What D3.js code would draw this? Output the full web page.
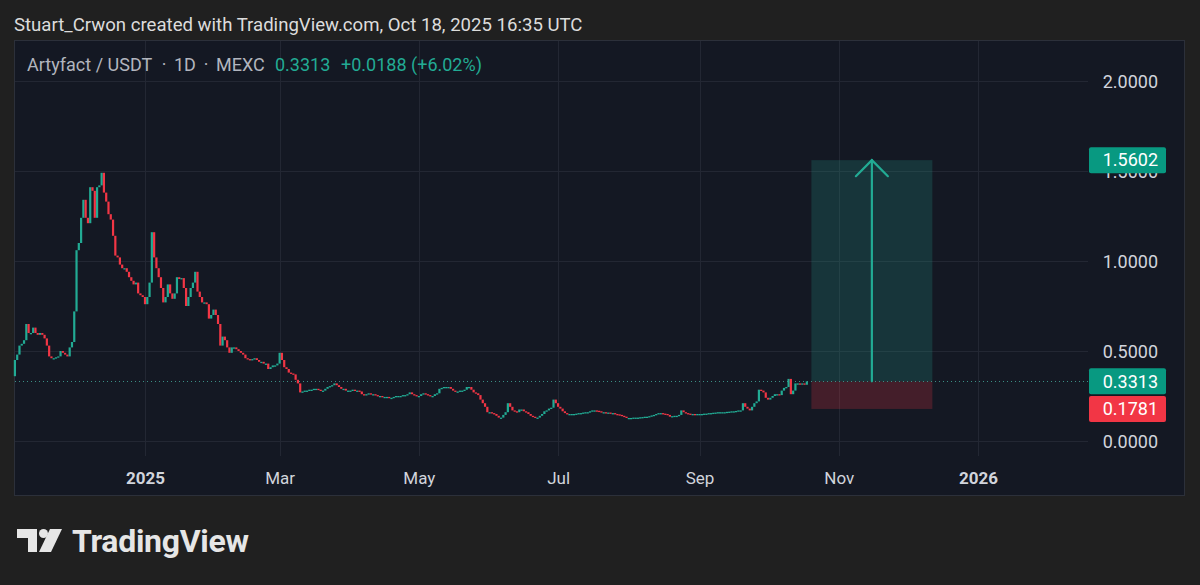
<!DOCTYPE html>
<html><head><meta charset="utf-8">
<script src="https://cdn.jsdelivr.net/npm/d3@7"></script>
<style>
html,body{margin:0;padding:0;background:#202020;}
svg{display:block;}
text{font-family:Roboto,"Noto Sans",sans-serif;}
</style></head><body>
<svg id="chart" width="1200" height="585"></svg>
<script>
// ---- Data: daily closes of Artyfact / USDT (MEXC), open = previous close ----
const seriesStart = "2024-11-05";
const firstOpen = 0.36;
const closesNov2024 = [0.45,0.48,0.53,0.54,0.56,0.65,0.60,0.60,0.63,0.60,0.59,0.60,0.59,0.57,0.53,0.47,0.46,0.46,0.465,0.47,0.50,0.49,0.48,0.47,0.52,0.55];
const closesDec2024 = [0.72,1.06,1.10,1.24,1.34,1.24,1.21,1.41,1.39,1.24,1.41,1.42,1.49,1.38,1.33,1.26,1.23,1.14,1.03,1.02,0.98,0.96,0.96,0.94,0.91,0.89,0.87,0.88,0.82,0.81,0.80];
const closesJan2025 = [0.76,0.80,0.88,1.16,1.02,0.96,0.91,0.85,0.77,0.80,0.87,0.82,0.79,0.82,0.91,0.90,0.905,0.85,0.75,0.80,0.85,0.88,0.94,0.83,0.80,0.77,0.77,0.76,0.68,0.70,0.73];
const closesFeb2025 = [0.70,0.65,0.53,0.58,0.56,0.52,0.49,0.52,0.52,0.51,0.50,0.49,0.48,0.46,0.455,0.45,0.455,0.46,0.45,0.44,0.44,0.43,0.43,0.40,0.41,0.42,0.42,0.43];
const closesMar2025 = [0.49,0.45,0.41,0.40,0.38,0.375,0.37,0.34,0.32,0.27,0.275,0.28,0.28,0.285,0.285,0.29,0.29,0.285,0.28,0.28,0.29,0.30,0.305,0.31,0.32,0.31,0.30,0.29,0.29,0.28,0.28];
const closesApr2025 = [0.28,0.285,0.28,0.28,0.275,0.26,0.255,0.26,0.265,0.26,0.26,0.255,0.25,0.25,0.245,0.245,0.245,0.24,0.24,0.245,0.25,0.25,0.25,0.255,0.255,0.26,0.27,0.26,0.255,0.25];
const closesMay2025 = [0.25,0.26,0.265,0.26,0.255,0.25,0.25,0.26,0.265,0.29,0.295,0.30,0.30,0.30,0.29,0.28,0.275,0.275,0.28,0.28,0.285,0.30,0.30,0.285,0.27,0.265,0.255,0.23,0.21,0.19,0.16];
const closesJun2025 = [0.16,0.155,0.15,0.14,0.13,0.13,0.145,0.16,0.21,0.19,0.17,0.165,0.16,0.175,0.175,0.165,0.16,0.15,0.14,0.135,0.13,0.13,0.14,0.15,0.165,0.17,0.18,0.185,0.23,0.21];
const closesJul2025 = [0.19,0.18,0.165,0.155,0.15,0.15,0.15,0.15,0.152,0.155,0.155,0.158,0.16,0.16,0.165,0.17,0.17,0.168,0.165,0.16,0.16,0.158,0.158,0.155,0.155,0.15,0.148,0.145,0.14,0.135,0.128];
const closesAug2025 = [0.128,0.128,0.13,0.13,0.13,0.132,0.133,0.135,0.135,0.138,0.142,0.145,0.15,0.155,0.155,0.152,0.15,0.145,0.135,0.138,0.14,0.14,0.145,0.17,0.16,0.155,0.152,0.15,0.15,0.148,0.15];
const closesSep2025 = [0.15,0.15,0.152,0.152,0.155,0.155,0.157,0.158,0.16,0.16,0.16,0.16,0.162,0.163,0.165,0.165,0.167,0.17,0.17,0.21,0.19,0.18,0.17,0.19,0.21,0.22,0.285,0.28,0.27,0.24];
const closesOct2025 = [0.23,0.24,0.25,0.26,0.26,0.255,0.28,0.295,0.30,0.345,0.26,0.28,0.32,0.32,0.318,0.32,0.3125,0.3313];

// Position tool (long)
const entryPrice = 0.3313;
const targetPrice = 1.5602;
const stopPrice = 0.1781;
const positionStart = "2025-10-20";
const positionEnd = "2025-12-12";

// Axes
const yTickValues = [0, 0.5, 1, 1.5, 2];
const xTickDates = ["2025-01-01","2025-03-01","2025-05-01","2025-07-01","2025-09-01","2025-11-01","2026-01-01"];
const xTickLabels = ["2025","Mar","May","Jul","Sep","Nov","2026"];
const xTickBold = [true,false,false,false,false,false,true];

// Texts
const headerText = "Stuart_Crwon created with TradingView.com, Oct 18, 2025 16:35 UTC";
const legendParts = ["Artyfact / USDT", "·", "1D", "·", "MEXC"];
const lastText = "0.3313";
const changeText = "+0.0188 (+6.02%)";

// ---- Build candles ----
const parse = d3.utcParse("%Y-%m-%d");
const allCloses = [].concat(closesNov2024, closesDec2024, closesJan2025, closesFeb2025, closesMar2025, closesApr2025, closesMay2025, closesJun2025, closesJul2025, closesAug2025, closesSep2025, closesOct2025);
const start = parse(seriesStart);
const candles = allCloses.map((c, i) => ({
  date: d3.utcDay.offset(start, i),
  open: i === 0 ? firstOpen : allCloses[i-1],
  close: c
}));

// ---- Layout ----
const W = 1200, H = 585;
const panel = {x: 14.5, y: 40.5, w: 1170, h: 455};
const plotRight = 1088, plotBottom = 456, plotLeft = 15, plotTop = 41;
const UP = "#22ab94", DOWN = "#f23645";

const svg = d3.select("#chart");
svg.append("rect").attr("width", W).attr("height", H).attr("fill", "#202020");
svg.append("rect").attr("x", panel.x).attr("y", panel.y).attr("width", panel.w).attr("height", panel.h)
  .attr("fill", "#141823").attr("stroke", "#2c303a").attr("stroke-width", 1);

const x = d3.scaleUtc().domain([parse("2025-01-01"), parse("2026-01-01")]).range([145, 978]);
const y = d3.scaleLinear().domain([0, 2]).range([441, 81]);

// Grid
const grid = svg.append("g");
grid.selectAll("line.h").data(yTickValues).join("line")
  .attr("x1", plotLeft).attr("x2", plotRight)
  .attr("y1", d => Math.round(y(d)) + 0.5).attr("y2", d => Math.round(y(d)) + 0.5)
  .attr("stroke", "#232733").attr("stroke-width", 1);
grid.selectAll("line.v").data(xTickDates).join("line")
  .attr("x1", d => Math.round(x(parse(d))) + 0.5).attr("x2", d => Math.round(x(parse(d))) + 0.5)
  .attr("y1", plotTop).attr("y2", plotBottom)
  .attr("stroke", "#232733").attr("stroke-width", 1);

// Position tool boxes
const px0 = x(parse(positionStart)), px1 = x(parse(positionEnd));
svg.append("rect").attr("x", px0).attr("width", px1 - px0)
  .attr("y", y(targetPrice)).attr("height", y(entryPrice) - y(targetPrice))
  .attr("fill", "rgba(34,171,148,0.2)");
svg.append("rect").attr("x", px0).attr("width", px1 - px0)
  .attr("y", y(entryPrice)).attr("height", y(stopPrice) - y(entryPrice))
  .attr("fill", "rgba(242,54,69,0.22)");

// Current price dotted line
svg.append("line").attr("x1", plotLeft).attr("x2", plotRight)
  .attr("y1", Math.round(y(entryPrice)) + 0.5).attr("y2", Math.round(y(entryPrice)) + 0.5)
  .attr("stroke", "#3b8f84").attr("stroke-width", 1).attr("stroke-dasharray", "1,3");

// Arrow
const ax = (px0 + px1) / 2;
const arrow = svg.append("g").attr("stroke", UP).attr("stroke-width", 2.2).attr("fill", "none").attr("stroke-linecap", "round");
arrow.append("line").attr("x1", ax).attr("x2", ax).attr("y1", y(entryPrice)).attr("y2", y(targetPrice));
arrow.append("polyline").attr("points", `${ax-16},${y(targetPrice)+16} ${ax},${y(targetPrice)} ${ax+16},${y(targetPrice)+16}`);

// Candles
const cw = 2.2;
svg.append("g").selectAll("rect").data(candles).join("rect")
  .attr("x", d => x(d.date) - cw/2)
  .attr("width", cw)
  .attr("y", d => y(Math.max(d.open, d.close)))
  .attr("height", d => Math.max(1.3, Math.abs(y(d.open) - y(d.close))))
  .attr("fill", d => d.close >= d.open ? UP : DOWN);

// Y axis
const yAxis = svg.append("g").attr("transform", "translate(1158,0)")
  .call(d3.axisRight(y).tickValues(yTickValues).tickFormat(d3.format(".4f")).tickSize(0).tickPadding(0));
yAxis.select(".domain").remove();
yAxis.selectAll("text").attr("text-anchor", "end").attr("x", 0).attr("dy", "0.35em")
  .attr("fill", "#d1d4dc").style("font-size", "18px").style("font-family", "Roboto, sans-serif");

// X axis
const xAxis = svg.append("g").attr("transform", "translate(0,478)")
  .call(d3.axisBottom(x).tickValues(xTickDates.map(parse)).tickFormat((d, i) => xTickLabels[i]).tickSize(0).tickPadding(0));
xAxis.select(".domain").remove();
xAxis.selectAll("text").attr("y", 0).attr("dy", "0.35em")
  .attr("fill", "#d1d4dc").style("font-size", "17px").style("font-family", "Roboto, sans-serif")
  .style("font-weight", (d, i) => xTickBold[i] ? "700" : "400");

// Price labels
function priceLabel(price, color) {
  const cy = y(price);
  svg.append("rect").attr("x", 1089).attr("y", cy - 13).attr("width", 77).attr("height", 26).attr("rx", 2).attr("fill", color);
  svg.append("text").attr("x", 1158).attr("y", cy).attr("dy", "0.35em").attr("text-anchor", "end")
    .attr("fill", "#ffffff").style("font-size", "18px").text(d3.format(".4f")(price));
}
priceLabel(targetPrice, "#089981");
priceLabel(entryPrice, "#089981");
priceLabel(stopPrice, "#f23645");

// Header
svg.append("text").attr("x", 14).attr("y", 31).attr("fill", "#dcdcdc").style("font-size", "18.6px").text(headerText);

// Legend
const legendX = [27, 164, 174, 206, 216];
const legendAnchor = ["start", "middle", "start", "middle", "start"];
const leg = svg.append("g").style("font-size", "18px");
leg.selectAll("text").data(legendParts).join("text")
  .attr("x", (d, i) => legendX[i]).attr("y", 71).attr("text-anchor", (d, i) => legendAnchor[i])
  .attr("fill", "#b2b5be").text(d => d);
leg.append("text").attr("x", 275).attr("y", 71).attr("fill", UP).text(lastText);
leg.append("text").attr("x", 341).attr("y", 71).attr("fill", UP).text(changeText);

// Logo
const logo = svg.append("g").attr("fill", "#e6e6e6");
logo.append("path").attr("d", "M17,529 H37 V552 H28 V538 H17 Z");
logo.append("circle").attr("cx", 43.5).attr("cy", 533.5).attr("r", 4.5);
logo.append("path").attr("d", "M50,529 H62 L51,552 H39 Z");
svg.append("text").attr("x", 72).attr("y", 552).attr("fill", "#e6e6e6")
  .style("font-size", "32px").style("font-weight", "700").style("letter-spacing", "-0.3px").text("TradingView");
</script>
</body></html>
